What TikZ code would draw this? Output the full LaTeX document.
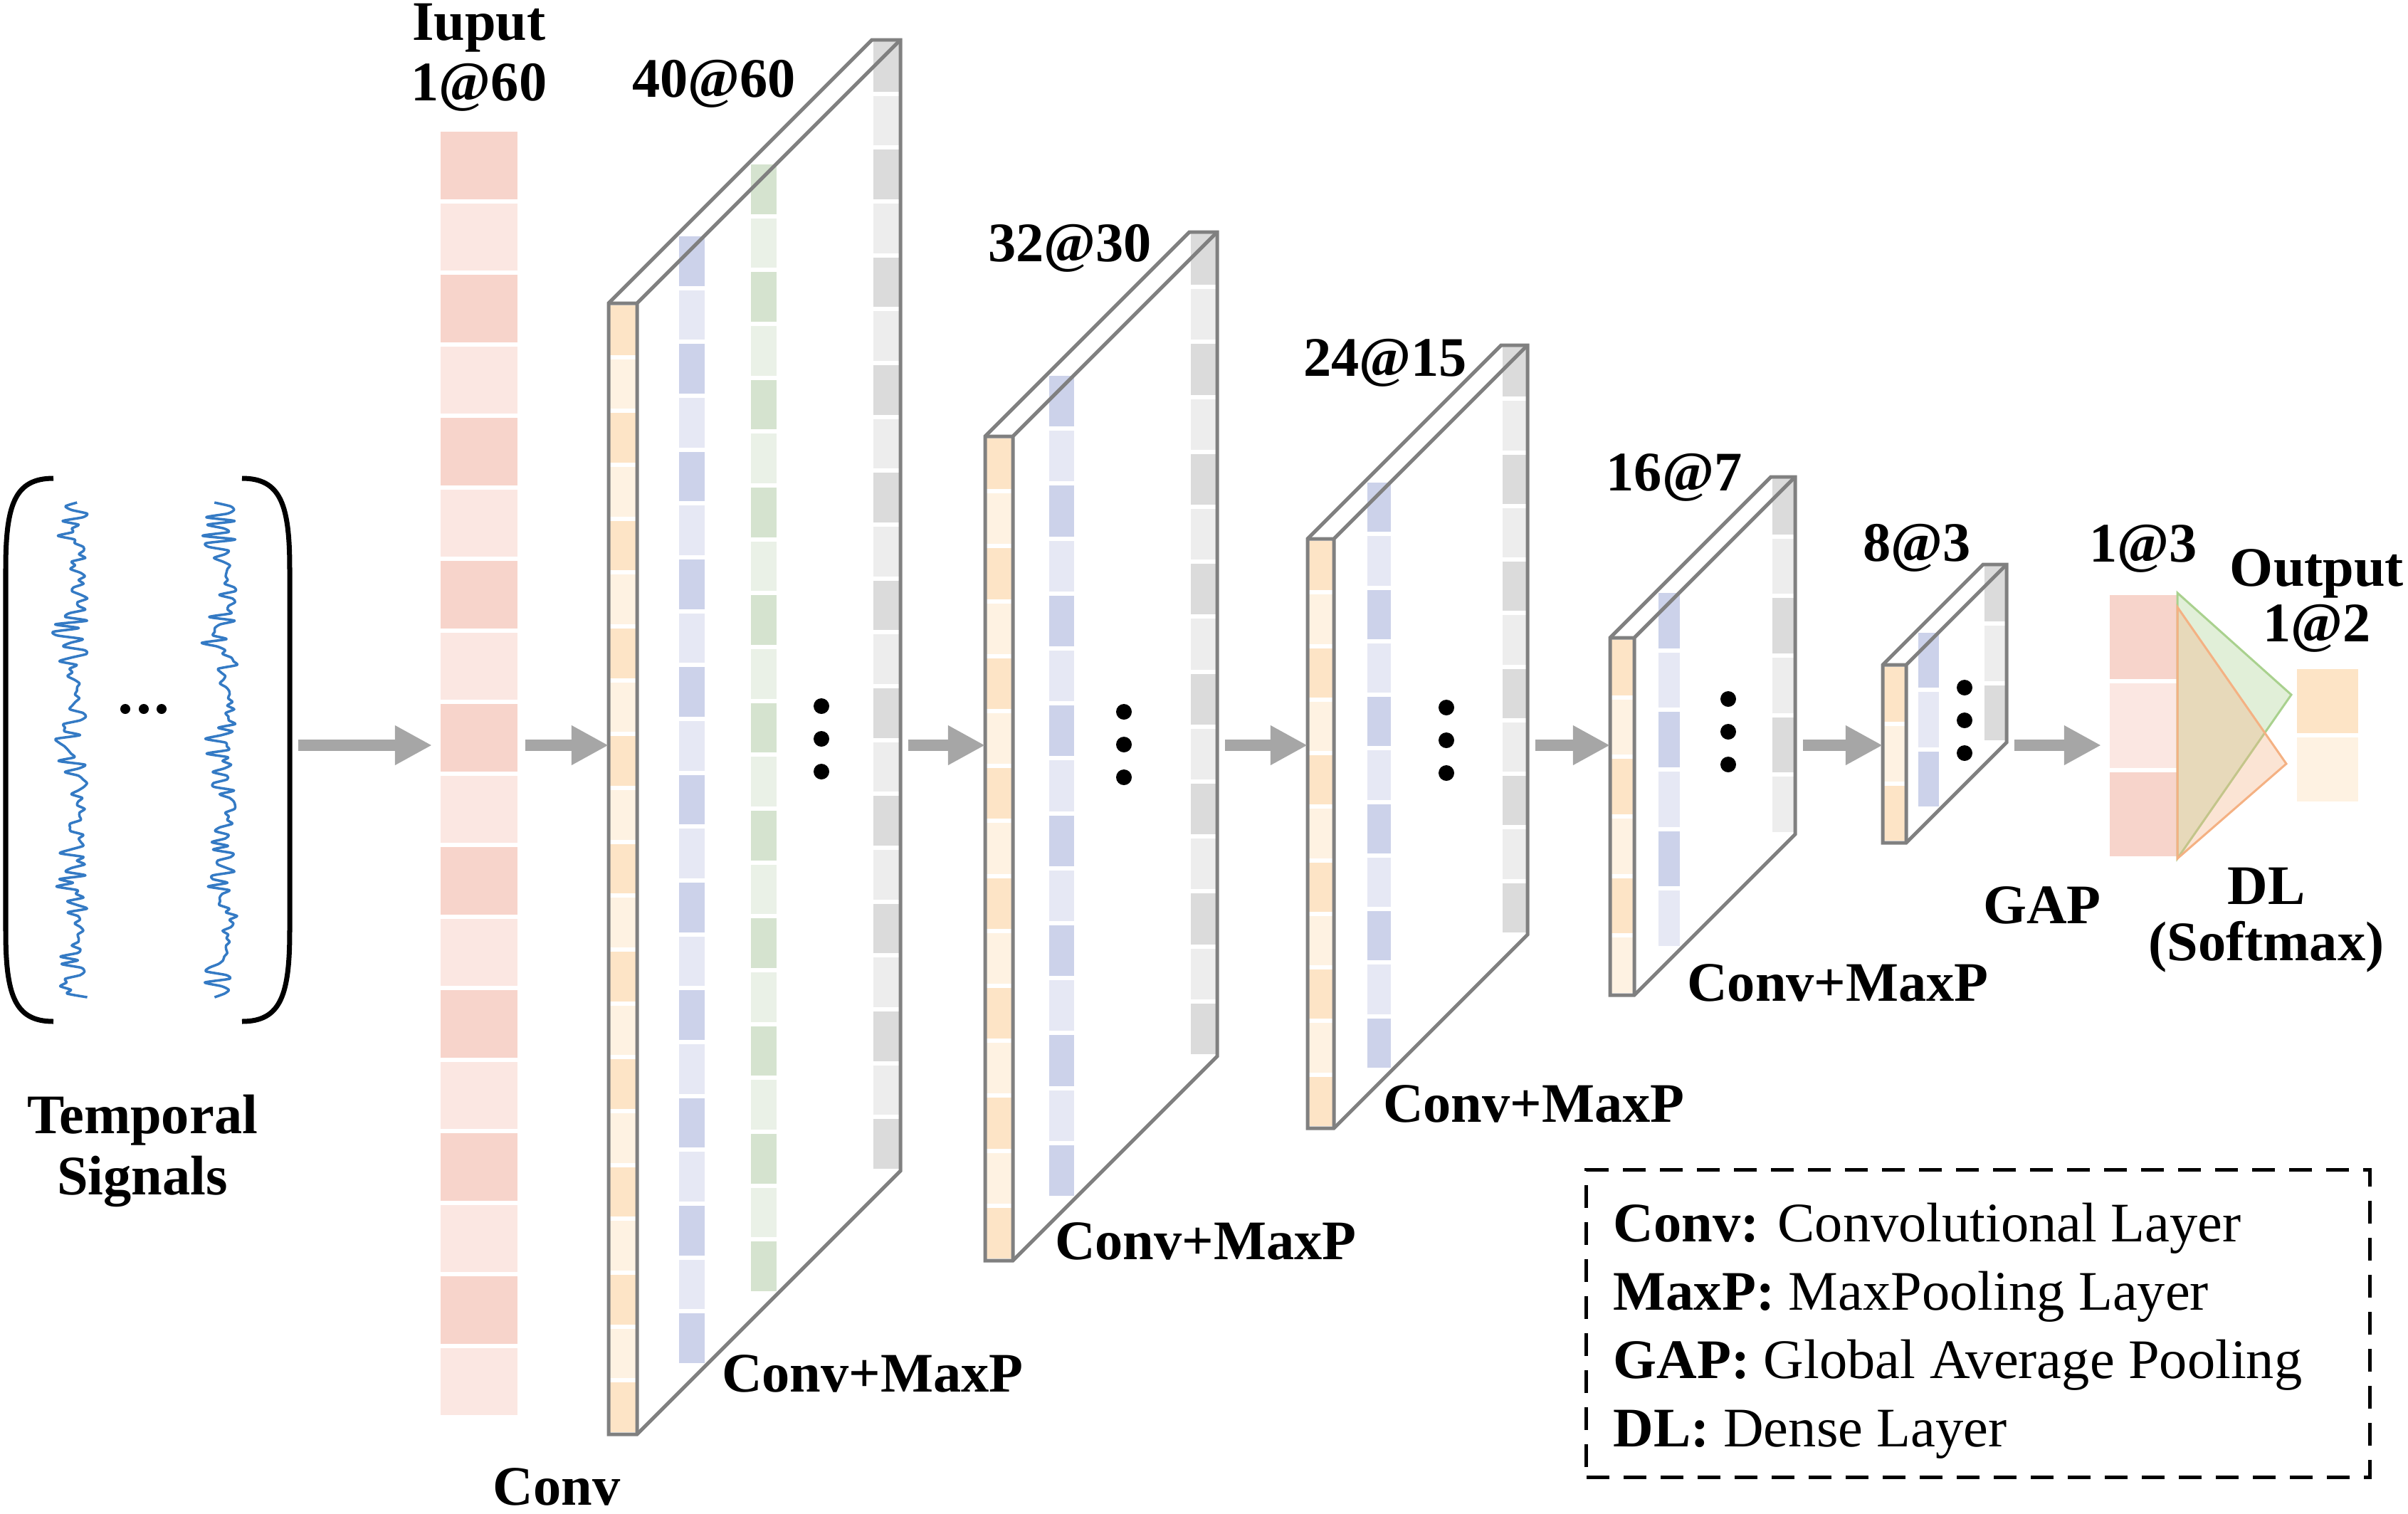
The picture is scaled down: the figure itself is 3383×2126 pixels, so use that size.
\documentclass[tikz,border=0pt]{standalone}
\usepackage{fontspec}
\setmainfont{Liberation Serif}
\usetikzlibrary{arrows.meta, positioning}

\definecolor{pinkcell}{RGB}{247,212,203}
\definecolor{orangecell}{RGB}{253,228,198}
\definecolor{bluecell}{RGB}{204,210,234}
\definecolor{greencell}{RGB}{213,227,207}
\definecolor{graycell}{RGB}{219,219,219}
\definecolor{edgegray}{RGB}{128,128,128}
\definecolor{arrowgray}{RGB}{166,166,166}
\definecolor{wave}{RGB}{52,122,196}
\definecolor{dlgreen}{RGB}{169,209,142}
\definecolor{dlorange}{RGB}{244,177,131}

\begin{document}
\begin{tikzpicture}[
    x = 0.01cm, y = -0.01cm,
    dimlabel/.style = {font = \bfseries\fontsize{22.3}{26}\selectfont, inner sep = 0pt, anchor = base},
    keytext/.style = {font = \fontsize{22.3}{26}\selectfont, inner sep = 0pt, anchor = base west},
    keybox/.style = {draw, line width = 0.05cm, dash pattern = on 0.32cm off 0.2cm,
      minimum width = 11cm, minimum height = 4.31cm, inner sep = 0pt},
    layer/.style = {inner sep = 0pt, outer sep = 0pt, minimum height = 0.1cm},
    boxline/.style = {draw = edgegray, line width = 0.05cm},
    flow/.style = {draw = arrowgray, line width = 0.16cm,
      -{Triangle[length = 0.52cm, width = 0.52cm]}, shorten < = 0.11cm},
    trace/.style = {draw = wave, line width = 0.035cm, line join = round},
    bracket/.style = {draw, line width = 0.07cm},
  ]
  \useasboundingbox (0,0) rectangle (3383,2126);
  \coordinate (axis) at (0,1047);

  % temporal signals
  \node[layer, minimum width = 4.02cm, minimum height = 7.63cm] (sig) at (207,1053) {};
  \draw[bracket] (75,672) .. controls (20,672) and (8,710) .. (8,800) -- (8,1307)
    .. controls (8,1397) and (20,1435) .. (75,1435);
  \draw[bracket] (340,672) .. controls (395,672) and (407,710) .. (407,800) -- (407,1307)
    .. controls (407,1397) and (395,1435) .. (340,1435);
  \pgfmathsetseed{7}
  \foreach \cx in {104,314}
    \draw[trace] plot[smooth, tension = 0.4, variable = \t, samples = 135, domain = 706:1401]
      ({\cx+(7+17*abs(sin(1.1*\t)))*rand+7*sin(2.3*\t)}, \t);
  \foreach \i in {176,202,227}
    \fill (\i,996) circle (0.07cm);
  \node[dimlabel] (temporal) at (200,1592) {Temporal};
  \node[dimlabel, below = 0.86cm of temporal.base, anchor = base] (signals) {Signals};

  % input layer
  \node[layer, minimum width = 1.08cm, minimum height = 18.09cm] (inp) at (673,1086.5) {};
  \foreach \k [evaluate = \k as \tint using int(55+45*(\k-2*floor(\k/2)))] in {1,...,18}
    \fill[fill = pinkcell!\tint] (619,{182+(\k-1)*100.5+3}) rectangle (727,{182+\k*100.5-3});
  \node[dimlabel] (iuput) at (673,56) {Iuput};
  \node[dimlabel, below = 0.85cm of iuput.base, anchor = base] (insize) {1@60};
  \node[dimlabel] (conv) at (782,2114) {Conv};

  % feature maps
  \foreach \k [evaluate = \k as \tint using int(50+50*(\k-2*floor(\k/2)))] in {1,...,21}
    \fill[fill = greencell!\tint] (1055,{228+(\k-1)*75.667+3}) rectangle (1091,{228+\k*75.667-3});
  \foreach \n/\bx/\by/\bw/\bh/\bd/\nc/\bb/\dx/\dy in {
      1/855/426/40/1589/370/21/97/299/1038,
      2/1384/613/39/1158/287/15/88/195/1046,
      3/1837/757/37/828/272/11/82/195/1040,
      4/2262/896/34/502/226/6/66/166/1028,
      5/2645/934/33/250/141/3/48/115/1012} {
    \pgfmathsetmacro{\cp}{\bh/\nc}
    \foreach \k [evaluate = \k as \tint using int(50+50*(\k-2*floor(\k/2)))] in {1,...,\nc} {
      \fill[fill = orangecell!\tint] ({\bx+2},{\by+(\k-1)*\cp+3})
        rectangle ({\bx+\bw-2},{\by+\k*\cp-3});
      \fill[fill = bluecell!\tint] ({\bx+\bb+2},{\by-\bb+(\k-1)*\cp+3})
        rectangle ({\bx+\bb+\bw-2},{\by-\bb+\k*\cp-3});
      \fill[fill = graycell!\tint] ({\bx+\bd+2},{\by-\bd+(\k-1)*\cp+3})
        rectangle ({\bx+\bd+\bw-2},{\by-\bd+\k*\cp-3});
    }
    \draw[boxline] (\bx,\by) -- ++(0,\bh) -- ++(\bw,0) -- ++(\bd,-\bd) -- ++(0,-\bh)
      -- ++(-\bw,0) -- cycle;
    \draw[boxline] (\bx,\by) -- ++(\bw,0) -- ++(\bd,-\bd) (\bx+\bw,\by) -- ++(0,\bh);
    \foreach \j in {-1,0,1}
      \fill ({\bx+\dx},{\dy+46*\j}) circle (0.11cm);
    \node[layer, minimum width = {(\bw+\bd)*0.01cm}] (l\n) at ({\bx+(\bw+\bd)/2},\dy) {};
  }
  \foreach \txt/\px/\py [count = \i] in {40@60/1003/136, 32@30/1503/367, 24@15/1946/528,
      16@7/2352/689, 8@3/2693/788}
    \node[dimlabel] (size\i) at (\px,\py) {\txt};
  \foreach \px/\py [count = \i] in {1226/1955, 1694/1769, 2155/1576, 2582/1406}
    \node[dimlabel] (op\i) at (\px,\py) {Conv+MaxP};

  % pooling and dense layer
  \node[layer, minimum width = 0.95cm, minimum height = 3.73cm] (gap) at (3011.5,1019.5) {};
  \foreach \k [evaluate = \k as \tint using int(55+45*(\k-2*floor(\k/2)))] in {1,2,3}
    \fill[fill = pinkcell!\tint] (2964,{833+(\k-1)*124.33+3}) rectangle (3059,{833+\k*124.33-3});
  \node[layer, minimum width = 0.86cm, minimum height = 1.92cm] (out) at (3270,1033) {};
  \foreach \k [evaluate = \k as \tint using int(50+50*(\k-2*floor(\k/2)))] in {1,2}
    \fill[fill = orangecell!\tint] (3227,{937+(\k-1)*96+3}) rectangle (3313,{937+\k*96-3});
  \coordinate (dlg) at (3219,976);
  \coordinate (dlo) at (3212,1073);
  \filldraw[draw = dlgreen, fill = dlgreen, fill opacity = 0.35, line width = 0.03cm]
    (gap.north east) -- (dlg) -- (gap.south east) -- cycle;
  \filldraw[draw = dlorange, fill = dlorange, fill opacity = 0.35, line width = 0.03cm]
    ([yshift = -0.2cm]gap.north east) -- (dlo) -- (gap.south east) -- cycle;
  \node[dimlabel] (gapsize) at (3011,789) {1@3};
  \node[dimlabel] (output) at (3255,823) {Output};
  \node[dimlabel, below = 0.78cm of output.base, anchor = base] (outsize) {1@2};
  \node[dimlabel] (gaptxt) at (2869,1297) {GAP};
  \node[dimlabel] (dl) at (3184,1270) {DL};
  \node[dimlabel, below = 0.79cm of dl.base, anchor = base] (softmax) {(Softmax)};

  % arrows
  \draw[flow, shorten > = 0.12cm] (sig.east |- axis) -- (inp.west |- axis);
  \draw[flow] (inp.east |- axis) -- (l1.west |- axis);
  \foreach \pa/\pb in {1/2,2/3,3/4,4/5}
    \draw[flow] (l\pa.east |- axis) -- (l\pb.west |- axis);
  \draw[flow, shorten > = 0.12cm] (l5.east |- axis) -- (gap.west |- axis);

  % legend
  \node[keybox] (key) at (2779,1859.5) {};
  \foreach \abbr/\full [count = \i] in {Conv/Convolutional Layer, MaxP/MaxPooling Layer,
      GAP/Global Average Pooling, DL/Dense Layer}
    \node[keytext] (key\i) at (2266,{1744+96.3*(\i-1)}) {\textbf{\abbr:} \full};
\end{tikzpicture}
\end{document}
